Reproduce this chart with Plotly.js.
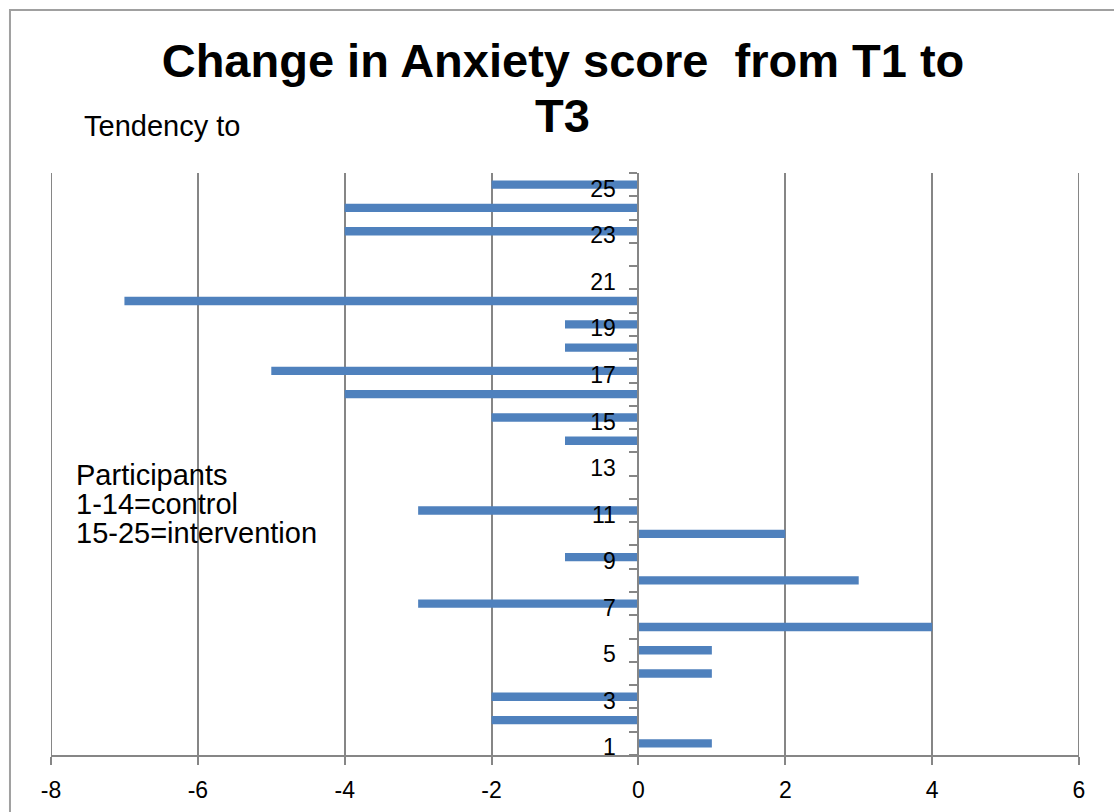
<!DOCTYPE html>
<html>
<head>
<meta charset="utf-8">
<script src="https://cdn.plot.ly/plotly-3.0.1.min.js"></script>
<style>
  html, body { margin: 0; padding: 0; background: #fff; }
  #chart { width: 1114px; height: 812px; }
</style>
</head>
<body>
<div id="chart"></div>
<script>
// Participant numbers (1-14 control, 15-25 intervention)
const participants = [1, 2, 3, 4, 5, 6, 7, 8, 9, 10, 11, 12, 13,
                      14, 15, 16, 17, 18, 19, 20, 21, 22, 23, 24, 25];
// Change in anxiety score from T1 to T3 for each participant
const scoreChange = [1, -2, -2, 1, 1, 4, -3, 3, -1, 2, -3, 0, 0,
                     -1, -2, -4, -5, -1, -1, -7, 0, 0, -4, -4, -2];
// Labelled participant ticks and x-axis ticks
const yTickVals = [1, 3, 5, 7, 9, 11, 13, 15, 17, 19, 21, 23, 25];
const xTickVals = [-8, -6, -4, -2, 0, 2, 4, 6];

const FONT = '"Liberation Sans", Arial, sans-serif';
const GREY = '#868686';

const trace = {
  type: 'bar',
  orientation: 'h',
  x: scoreChange,
  y: participants,
  width: 0.36,
  marker: { color: '#4F81BD', line: { width: 0 } },
  hoverinfo: 'skip'
};

// Vertical gridlines at both ends of the value range
const edgeGrid = [xTickVals[0], xTickVals[xTickVals.length - 1]].map(v => ({
  type: 'line', xref: 'x', yref: 'paper',
  x0: v, x1: v, y0: 0, y1: 1,
  line: { color: GREY, width: 2 }, layer: 'below'
}));

const layout = {
  width: 1114,
  height: 812,
  margin: { l: 51, r: 35, t: 173, b: 57, pad: 0 },
  paper_bgcolor: '#ffffff',
  plot_bgcolor: '#ffffff',
  showlegend: false,
  font: { family: FONT, color: '#000000' },
  title: {
    text: 'Change in Anxiety score \u00a0from T1 to',
    font: { family: FONT, size: 47, color: '#000000', weight: 'bold' },
    xref: 'container', x: 0.5054, xanchor: 'center',
    yref: 'container', y: 0.9256, yanchor: 'middle'
  },
  xaxis: {
    range: [-8, 6],
    tickvals: xTickVals,
    ticktext: xTickVals.map(String),
    showgrid: true, gridcolor: GREY, gridwidth: 2,
    zeroline: false,
    showline: true, linecolor: GREY, linewidth: 2,
    ticks: 'outside', ticklen: 8, tickwidth: 2, tickcolor: GREY,
    ticklabelstandoff: 5,
    tickfont: { family: FONT, size: 23, color: '#000000' },
    fixedrange: true
  },
  yaxis: {
    type: 'linear',
    range: [0.5, 25.5],
    anchor: 'free',
    position: 8 / 14,
    side: 'left',
    tickvals: yTickVals,
    ticktext: yTickVals.map(String),
    ticks: '',
    showgrid: false,
    zeroline: false,
    showline: true, linecolor: GREY, linewidth: 2,
    ticklabelstandoff: 17,
    ticklabelshift: 4,
    tickfont: { family: FONT, size: 23, color: '#000000' },
    minor: {
      tickmode: 'linear', tick0: 0.5, dtick: 1,
      ticks: 'outside', ticklen: 8, tickwidth: 2, tickcolor: GREY,
      showgrid: false
    },
    fixedrange: true
  },
  shapes: [
    // chart frame
    {
      type: 'rect', xref: 'paper', yref: 'paper',
      x0: -0.0399, x1: 1.08, y0: -0.2, y1: 1.2801,
      line: { color: '#a0a0a0', width: 2 },
      fillcolor: 'rgba(0,0,0,0)', layer: 'below'
    }
  ].concat(edgeGrid),
  annotations: [
    {
      text: 'T3', xref: 'paper', yref: 'paper',
      x: 0.4978, y: 1.0989, xanchor: 'center', yanchor: 'middle',
      showarrow: false,
      font: { family: FONT, size: 47, color: '#000000', weight: 'bold' }
    },
    {
      text: 'Tendency to', xref: 'paper', yref: 'paper',
      x: 0.0305, y: 1.0808, xanchor: 'left', yanchor: 'middle',
      showarrow: false,
      font: { family: FONT, size: 29, color: '#000000' }
    },
    {
      text: 'Participants', xref: 'paper', yref: 'paper',
      x: 0.0225, y: 0.4811, xanchor: 'left', yanchor: 'middle',
      showarrow: false,
      font: { family: FONT, size: 29, color: '#000000' }
    },
    {
      text: '1-14=control', xref: 'paper', yref: 'paper',
      x: 0.0225, y: 0.4313, xanchor: 'left', yanchor: 'middle',
      showarrow: false,
      font: { family: FONT, size: 29, color: '#000000' }
    },
    {
      text: '15-25=intervention', xref: 'paper', yref: 'paper',
      x: 0.0225, y: 0.3814, xanchor: 'left', yanchor: 'middle',
      showarrow: false,
      font: { family: FONT, size: 29, color: '#000000' }
    }
  ]
};

Plotly.newPlot('chart', [trace], layout, { staticPlot: true, displayModeBar: false });
</script>
</body>
</html>
